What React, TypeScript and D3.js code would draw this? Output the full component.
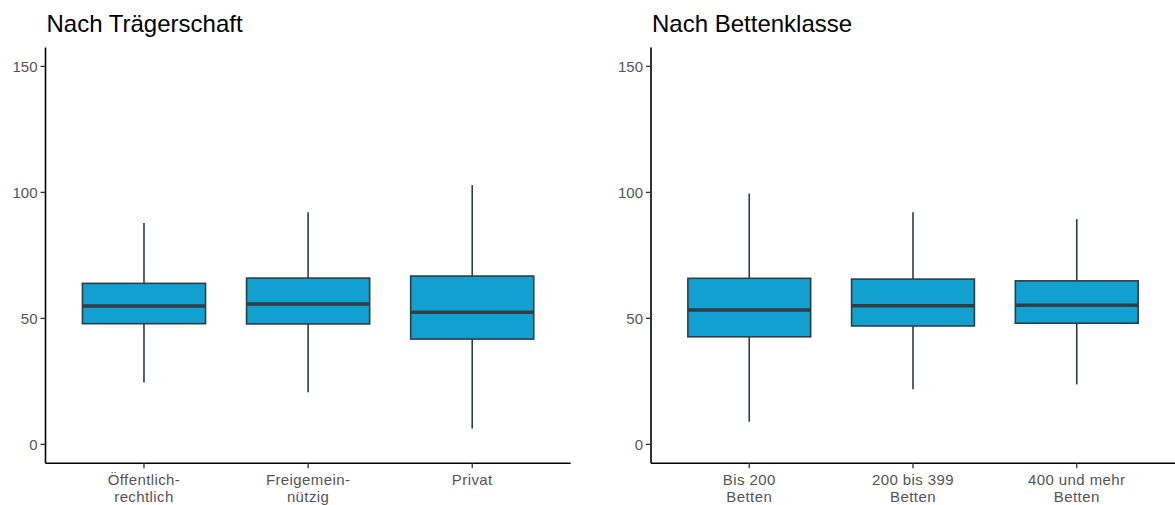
import React from "react";
import * as d3 from "d3";

const categoriesTraeger = ["Öffentlich-\nrechtlich", "Freigemein-\nnützig", "Privat"];
const traegerMin = [24.6, 20.7, 6.3];
const traegerQ1 = [47.9, 47.8, 41.8];
const traegerMedian = [54.9, 55.7, 52.4];
const traegerQ3 = [63.9, 66.0, 66.8];
const traegerMax = [87.9, 92.1, 102.9];

const categoriesBetten = ["Bis 200\nBetten", "200 bis 399\nBetten", "400 und mehr\nBetten"];
const bettenMin = [9.0, 21.9, 23.8];
const bettenQ1 = [42.7, 47.0, 48.1];
const bettenMedian = [53.3, 55.0, 55.2];
const bettenQ3 = [65.9, 65.6, 64.9];
const bettenMax = [99.6, 92.1, 89.4];

const yTicks = [0, 50, 100, 150];
const titles = ["Nach Trägerschaft", "Nach Bettenklasse"];

const W = 1175;
const H = 505;
const FONT = "'Liberation Sans', Arial, sans-serif";
const FILL = "#11a0d0";
const STROKE = "#2f3d44";

type PanelProps = {
  title: string;
  cats: string[];
  mins: number[];
  q1: number[];
  med: number[];
  q3: number[];
  maxs: number[];
  x0: number;
  x1: number;
};

function Panel({ title, cats, mins, q1, med, q3, maxs, x0, x1 }: PanelProps) {
  const top = 47.5;
  const bottom = 463.3;
  const y = d3.scaleLinear().domain([-7.5, 157.5]).range([bottom, top]);
  const x = d3.scalePoint<string>().domain(cats).range([x0, x1]).padding(0.6);
  const bw = x.step() * 0.75;
  return (
    <g>
      <text x={x0 + 1} y={31.5} fontFamily={FONT} fontSize={24} fill="#000">
        {title}
      </text>
      {cats.map((c, i) => {
        const cx = x(c) as number;
        return (
          <g key={c}>
            <line x1={cx} x2={cx} y1={y(q3[i])} y2={y(maxs[i])} stroke={STROKE} strokeWidth={1.6} />
            <line x1={cx} x2={cx} y1={y(q1[i])} y2={y(mins[i])} stroke={STROKE} strokeWidth={1.6} />
            <rect
              x={cx - bw / 2}
              y={y(q3[i])}
              width={bw}
              height={y(q1[i]) - y(q3[i])}
              fill={FILL}
              stroke={STROKE}
              strokeWidth={1.6}
            />
            <line
              x1={cx - bw / 2}
              x2={cx + bw / 2}
              y1={y(med[i])}
              y2={y(med[i])}
              stroke={STROKE}
              strokeWidth={3.5}
            />
          </g>
        );
      })}
      {/* y axis */}
      <line x1={x0} x2={x0} y1={top} y2={bottom} stroke="#000" strokeWidth={1.6} />
      {yTicks.map((t) => (
        <g key={t}>
          <line x1={x0 - 5} x2={x0} y1={y(t)} y2={y(t)} stroke="#333" strokeWidth={1.3} />
          <text
            x={x0 - 8}
            y={y(t)}
            dy="0.36em"
            textAnchor="end"
            fontFamily={FONT}
            fontSize={15}
            fill="#555"
          >
            {t}
          </text>
        </g>
      ))}
      {/* x axis */}
      <line x1={x0} x2={x1} y1={bottom} y2={bottom} stroke="#000" strokeWidth={1.6} />
      {cats.map((c) => {
        const cx = x(c) as number;
        const lines = c.split("\n");
        return (
          <g key={"t" + c}>
            <line x1={cx} x2={cx} y1={bottom} y2={bottom + 5} stroke="#333" strokeWidth={1.3} />
            <text
              textAnchor="middle"
              fontFamily={FONT}
              fontSize={15}
              letterSpacing={0.4}
              fill="#555"
            >
              {lines.map((l, k) => (
                <tspan key={k} x={cx} y={484.5 + k * 17.3}>
                  {l}
                </tspan>
              ))}
            </text>
          </g>
        );
      })}
    </g>
  );
}

export default function App() {
  return (
    <svg
      width={W}
      height={H}
      viewBox={`0 0 ${W} ${H}`}
      style={{ position: "absolute", left: 0, top: 0, background: "#fff" }}
    >
      <rect width={W} height={H} fill="#fff" />
      <Panel
        title={titles[0]}
        cats={categoriesTraeger}
        mins={traegerMin}
        q1={traegerQ1}
        med={traegerMedian}
        q3={traegerQ3}
        maxs={traegerMax}
        x0={45.5}
        x1={570.7}
      />
      <Panel
        title={titles[1]}
        cats={categoriesBetten}
        mins={bettenMin}
        q1={bettenQ1}
        med={bettenMedian}
        q3={bettenQ3}
        maxs={bettenMax}
        x0={651}
        x1={1175}
      />
    </svg>
  );
}
